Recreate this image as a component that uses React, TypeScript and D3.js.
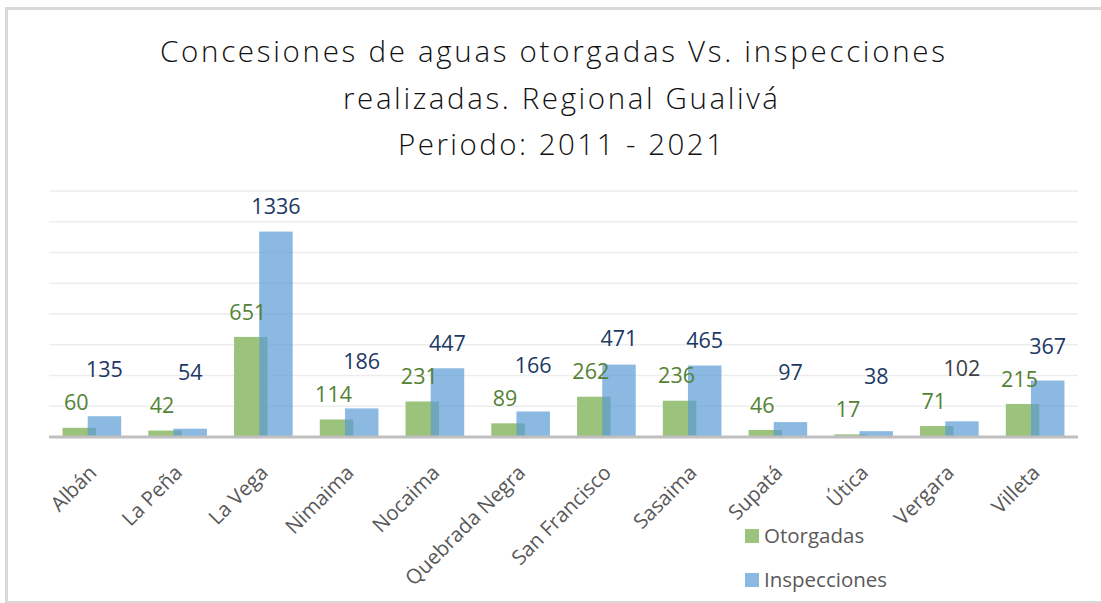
import React from "react";
import * as d3 from "d3";

const categories = ["Albán", "La Peña", "La Vega", "Nimaima", "Nocaima", "Quebrada Negra", "San Francisco", "Sasaima", "Supatá", "Útica", "Vergara", "Villeta"];
const otorgadas = [60, 42, 651, 114, 231, 89, 262, 236, 46, 17, 71, 215];
const inspecciones = [135, 54, 1336, 186, 447, 166, 471, 465, 97, 38, 102, 367];
const seriesNames = ["Otorgadas", "Inspecciones"];
const yTicks = [0, 200, 400, 600, 800, 1000, 1200, 1400, 1600];
const titleLines = ["Concesiones de aguas otorgadas Vs. inspecciones", "realizadas. Regional Gualivá", "Periodo: 2011 - 2021"];

const W = 1101, H = 603;
const plotLeft = 49, plotRight = 1078, plotTop = 191, plotBottom = 437;
const GREEN = "#9BC37B";
const BLUE = "#5B9BD5";
const BLUE_OPACITY = 0.7;
const FONT = "'Open Sans', 'Noto Sans', sans-serif";

export default function App() {
  const x = d3.scaleBand<string>().domain(categories).range([plotLeft, plotRight]).paddingInner(0.316).paddingOuter(0.158);
  const y = d3.scaleLinear().domain([0, 1600]).range([plotBottom, plotTop]);
  const bw = x.bandwidth() * 0.571;

  const titleSpecs = [
    { cx: 552.5, len: 785, base: 62 },
    { cx: 560.5, len: 435, base: 108.5 },
    { cx: 560.5, len: 325, base: 155 },
  ];

  return (
    <svg width={W} height={H} style={{ position: "absolute", left: 0, top: 0, background: "#fff" }}>
      <rect x={6.5} y={8.5} width={1110} height={594} fill="#fff" stroke="#D9D9D9" strokeWidth={3} />
      {titleLines.map((t, i) => (
        <text key={i} x={titleSpecs[i].cx - titleSpecs[i].len / 2} y={titleSpecs[i].base}
          textLength={titleSpecs[i].len} lengthAdjust="spacing"
          fontFamily={FONT} fontWeight={300} fontSize={29.5} fill="#111">{t}</text>
      ))}
      {yTicks.slice(1).map((t) => (
        <line key={t} x1={plotLeft} x2={plotRight} y1={y(t)} y2={y(t)} stroke="#EDEDED" strokeWidth={1.5} />
      ))}
      {categories.map((c, i) => {
        const x0 = x(c)!;
        const gx = x0;
        const bx = x0 + x.bandwidth() - bw;
        const gTop = y(otorgadas[i]);
        const bTop = y(inspecciones[i]);
        return (
          <g key={c}>
            <rect x={gx} y={gTop} width={bw} height={plotBottom - gTop} fill={GREEN} />
            <rect x={bx} y={bTop} width={bw} height={plotBottom - bTop} fill={BLUE} fillOpacity={BLUE_OPACITY} />
          </g>
        );
      })}
      <line x1={plotLeft} x2={plotRight} y1={plotBottom} y2={plotBottom} stroke="#BFBFBF" strokeWidth={3} />
      {categories.map((c, i) => {
        const x0 = x(c)!;
        const gcx = x0 + bw / 2;
        const bcx = x0 + x.bandwidth() - bw / 2;
        const gTop = y(otorgadas[i]);
        const bTop = y(inspecciones[i]);
        const gLabelC = gTop - 25;
        const bLabelC = Math.min(bTop - 25, gLabelC - 33);
        const isVergara = c === "Vergara";
        return (
          <g key={"l" + c} fontFamily={FONT} fontSize={21.5}>
            <text x={gcx - 3} y={gLabelC + 7.7} textAnchor="middle" fill="#548235">{otorgadas[i]}</text>
            <text x={bcx} y={bLabelC + 7.7} textAnchor="middle" fill={isVergara ? "#404040" : "#203864"}>{inspecciones[i]}</text>
          </g>
        );
      })}
      {categories.map((c) => {
        const cx = x(c)! + x.bandwidth() / 2;
        return (
          <text key={"c" + c} transform={`translate(${cx + 6},${474}) rotate(-45)`} textAnchor="end"
            fontFamily={FONT} fontSize={20.5} fill="#595959">{c}</text>
        );
      })}
      {seriesNames.map((s, i) => (
        <g key={s}>
          <rect x={745} y={529 + i * 44} width={14} height={14} fill={i === 0 ? GREEN : BLUE} fillOpacity={i === 0 ? 1 : BLUE_OPACITY} />
          <text x={764} y={543 + i * 44} fontFamily={FONT} fontSize={20.5} fill="#595959">{s}</text>
        </g>
      ))}
    </svg>
  );
}
